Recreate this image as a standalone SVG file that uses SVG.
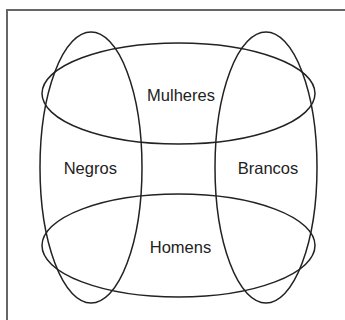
<svg xmlns="http://www.w3.org/2000/svg" width="345" height="320" viewBox="0 0 345 320">
<style>
.frame{fill:none;stroke:#666;stroke-width:2}
.set{fill:none;stroke:#222;stroke-width:1.5}
.lbl{font-family:"Liberation Sans",Arial,sans-serif;font-size:16.5px;fill:#222;text-anchor:middle}
</style>
<rect width="345" height="320" fill="#fff"/>
<rect class="frame" x="7" y="10" width="350" height="320"/>
<g id="negros"><ellipse class="set" cx="91" cy="167.5" rx="51" ry="135.5"/><text class="lbl" x="90.3" y="174">Negros</text></g>
<g id="brancos"><ellipse class="set" cx="266" cy="167.5" rx="51" ry="135.5"/><text class="lbl" x="268" y="174">Brancos</text></g>
<g id="mulheres"><ellipse class="set" cx="178.5" cy="93.5" rx="136.5" ry="50.5"/><text class="lbl" x="181" y="100.7">Mulheres</text></g>
<g id="homens"><ellipse class="set" cx="178.5" cy="245.5" rx="136.5" ry="51.5"/><text class="lbl" x="180.5" y="252.7">Homens</text></g>
<g id="connectors"/>
</svg>
